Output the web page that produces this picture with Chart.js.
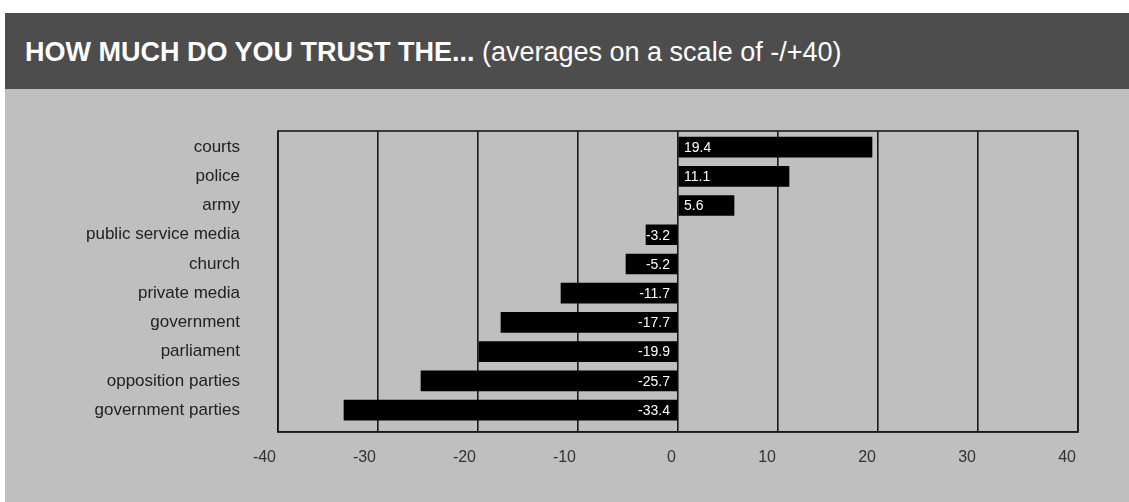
<!DOCTYPE html>
<html>
<head>
<meta charset="utf-8">
<script src="https://cdn.jsdelivr.net/npm/chart.js@4"></script>
<style>
  html, body { margin: 0; padding: 0; background: #fff; }
  body { width: 1129px; height: 502px; position: relative; overflow: hidden; font-family: "Liberation Sans", Arial, sans-serif; }
  #panel { position: absolute; left: 5px; top: 13px; width: 1124px; height: 489px; background: #bfbfbf; }
  #header { height: 76px; background: #4d4d4d; color: #fff; font-size: 27px; line-height: 79px; padding-left: 20px; white-space: nowrap; }
  #header b { font-weight: bold; }
  #chart-box { position: relative; width: 1124px; height: 413px; }
</style>
</head>
<body>
<div id="panel">
  <div id="header"><b>HOW MUCH DO YOU TRUST THE...</b> (averages on a scale of -/+40)</div>
  <div id="chart-box"><canvas id="trustChart"></canvas></div>
</div>
<script>
// institutions, top to bottom
const institutions = [
  "courts",
  "police",
  "army",
  "public service media",
  "church",
  "private media",
  "government",
  "parliament",
  "opposition parties",
  "government parties"
];
// average trust, scale -40..+40
const trustScores = [19.4, 11.1, 5.6, -3.2, -5.2, -11.7, -17.7, -19.9, -25.7, -33.4];
const xTicks = [-40, -30, -20, -10, 0, 10, 20, 30, 40];

const FONT = '"Liberation Sans", Arial, sans-serif';
const lineColor = '#1a1a1a';

// box round the plot area
const framePlugin = {
  id: 'frame',
  afterDraw(chart) {
    const { ctx, chartArea: a } = chart;
    ctx.save();
    ctx.strokeStyle = lineColor;
    ctx.lineWidth = 1.6;
    ctx.strokeRect(a.left, a.top, a.right - a.left, a.bottom - a.top);
    ctx.restore();
  }
};

// value printed inside each bar, next to the zero line
const valueLabels = {
  id: 'valueLabels',
  afterDatasetsDraw(chart) {
    const { ctx } = chart;
    const x0 = chart.scales.x.getPixelForValue(0);
    const meta = chart.getDatasetMeta(0);
    ctx.save();
    ctx.fillStyle = '#fff';
    ctx.font = '14px ' + FONT;
    ctx.textBaseline = 'middle';
    meta.data.forEach((bar, i) => {
      const v = trustScores[i];
      if (v >= 0) {
        ctx.textAlign = 'left';
        ctx.fillText(v.toFixed(1), x0 + 6, bar.y + 1);
      } else {
        ctx.textAlign = 'right';
        ctx.fillText(v.toFixed(1), x0 - 8, bar.y + 1);
      }
    });
    ctx.restore();
  }
};

// keep the axis label padding from pushing the plot area around
const noEdgePadding = s => {
  s.paddingTop = 0;
  s.paddingBottom = 0;
  s.paddingLeft = 0;
  s.paddingRight = 0;
};

const ctx = document.getElementById('trustChart').getContext('2d');
const trustChart = new Chart(ctx, {
  type: 'bar',
  data: {
    datasets: [{
      data: trustScores.map((v, i) => ({ x: v, y: i })),
      backgroundColor: '#000',
      borderWidth: 0,
      barThickness: 20
    }]
  },
  options: {
    indexAxis: 'y',
    responsive: true,
    maintainAspectRatio: false,
    animation: false,
    layout: { padding: { left: 0, top: 42, right: 51, bottom: 20 } },
    plugins: {
      legend: { display: false },
      title: { display: false },
      tooltip: { enabled: false }
    },
    scales: {
      x: {
        type: 'linear',
        min: -40,
        max: 40,
        afterBuildTicks: s => { s.ticks = xTicks.map(v => ({ value: v })); },
        afterFit: s => { s.height = 50; noEdgePadding(s); },
        grid: { color: lineColor, lineWidth: 1.6, drawTicks: false },
        border: { display: true, color: lineColor, width: 1.6 },
        ticks: {
          align: 'end',
          labelOffset: -2,
          padding: 16,
          color: '#333',
          font: { family: FONT, size: 16 }
        }
      },
      y: {
        type: 'linear',
        offset: false,
        reverse: true,
        min: -0.55,
        max: 9.75,
        afterBuildTicks: s => { s.ticks = institutions.map((_, i) => ({ value: i })); },
        afterFit: s => { s.width = 273; noEdgePadding(s); },
        grid: { display: false, drawTicks: false },
        border: { display: false },
        ticks: {
          padding: 38,
          color: '#222',
          font: { family: FONT, size: 17 },
          callback: v => institutions[v]
        }
      }
    }
  },
  plugins: [framePlugin, valueLabels]
});
</script>
</body>
</html>
